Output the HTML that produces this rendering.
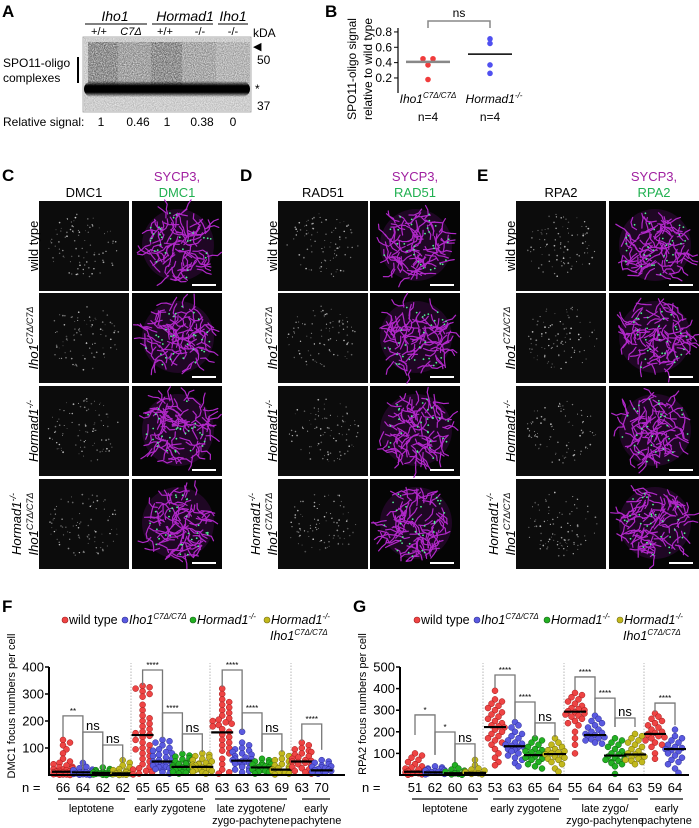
<!DOCTYPE html>
<html><head><meta charset="utf-8">
<style>
html,body{margin:0;padding:0;background:#fff;}
svg{display:block;font-family:"Liberation Sans",Arial,sans-serif;}
.it{font-style:italic}
</style></head>
<body>
<svg id="fig" width="699" height="828" viewBox="0 0 699 828" xmlns="http://www.w3.org/2000/svg">
<defs>
<linearGradient id="bandg" x1="0" y1="0" x2="0" y2="1">
<stop offset="0" stop-color="#000" stop-opacity="0"/><stop offset="0.3" stop-color="#000" stop-opacity="1"/><stop offset="0.7" stop-color="#000" stop-opacity="1"/><stop offset="1" stop-color="#000" stop-opacity="0"/>
</linearGradient>
<filter id="grain" x="0" y="0" width="100%" height="100%">
<feTurbulence type="fractalNoise" baseFrequency="0.9" numOctaves="2" seed="3" result="n"/>
<feColorMatrix in="n" type="matrix" values="0 0 0 0 0  0 0 0 0 0  0 0 0 0 0  0 0 0 0.9 -0.1" result="a"/>
<feComposite in="a" in2="SourceGraphic" operator="in"/>
</filter>
</defs>
<g>
<text x="2" y="17" font-size="17" font-weight="bold">A</text>
<text x="115" y="21" font-size="14" text-anchor="middle" class="it">Iho1</text>
<line x1="85" y1="24" x2="147" y2="24" stroke="#000" stroke-width="1"/>
<text x="185" y="21" font-size="14" text-anchor="middle" class="it">Hormad1</text>
<line x1="152" y1="24" x2="213" y2="24" stroke="#000" stroke-width="1"/>
<text x="233" y="21" font-size="14" text-anchor="middle" class="it">Iho1</text>
<line x1="218" y1="24" x2="248" y2="24" stroke="#000" stroke-width="1"/>
<g font-size="11" text-anchor="middle">
<text x="99" y="35">+/+</text><text x="131" y="35" class="it">C7Δ</text><text x="165" y="35">+/+</text><text x="200" y="35">-/-</text><text x="233" y="35">-/-</text>
</g>
<text x="253" y="37" font-size="12">kDA</text>
<rect x="83" y="37" width="168" height="75" fill="#f2f2f2" stroke="#999" stroke-width="0.8"/>
<g opacity="0.85">
<rect x="88" y="42" width="30" height="44" fill="#333" filter="url(#grain)"/>
<rect x="118" y="42" width="33" height="44" fill="#555" filter="url(#grain)" opacity="0.7"/>
<rect x="151" y="42" width="31" height="44" fill="#333" filter="url(#grain)"/>
<rect x="182" y="42" width="34" height="44" fill="#555" filter="url(#grain)" opacity="0.6"/>
<rect x="216" y="42" width="34" height="44" fill="#777" filter="url(#grain)" opacity="0.4"/>
<rect x="84" y="38" width="166" height="73" fill="#666" filter="url(#grain)" opacity="0.5"/>
</g>
<rect x="84" y="81" width="166" height="16" rx="8" fill="url(#bandg)"/>
<text x="253" y="50" font-size="11">◀</text>
<text x="257" y="64" font-size="12">50</text>
<text x="255" y="93" font-size="12">*</text>
<text x="257" y="110" font-size="12">37</text>
<text x="3" y="67" font-size="12">SPO11-oligo</text>
<text x="3" y="82" font-size="12">complexes</text>
<line x1="78" y1="57" x2="78" y2="83" stroke="#000" stroke-width="2"/>
<text x="3" y="126" font-size="12">Relative signal:</text>
<g font-size="12" text-anchor="middle">
<text x="101" y="126">1</text><text x="138" y="126">0.46</text><text x="167" y="126">1</text><text x="202" y="126">0.38</text><text x="233" y="126">0</text>
</g>
</g>
<g id="panelB">
<text x="325" y="17" font-size="17" font-weight="bold">B</text>
<text transform="translate(356,69) rotate(-90)" font-size="12" text-anchor="middle">SPO11-oligo signal</text>
<text transform="translate(372,69) rotate(-90)" font-size="12" text-anchor="middle">relative to wild type</text>
</g>
<g id="imgs"></g>
<g id="panelF"></g>
<g id="panelG"></g>
</svg>
<script>
// ---------- Panel B data ----------
const bGroups = ['Iho1', 'Hormad1'];
const bRed = [0.45, 0.45, 0.37, 0.18];
const bBlue = [0.71, 0.65, 0.37, 0.26];
const bMeans = [0.41, 0.51];
const bTicks = [0.2, 0.4, 0.6, 0.8];

// ---------- Panel F data (DMC1) ----------
const fN = ['66','64','62','62','65','65','65','68','63','63','63','69','63','70'];
const fMedians = [12,10,8,6,148,50,30,30,158,53,28,20,50,17];
const fVals = [
[130,120,110,95,80,60,50,45,40,35,30,28,25,22,20,18,15,14,12,12,10,10,8,8,6,5,4,3,2,2,1,0],
[45,30,25,20,18,15,12,10,10,8,8,6,5,4,3,2,1,0],
[28,22,18,15,12,10,9,8,7,6,5,4,3,2,1,0],
[55,45,35,28,22,18,15,12,10,8,6,5,4,3,2,1,0],
[330,325,320,310,300,290,260,240,220,210,200,190,180,170,160,155,150,145,140,130,120,110,100,95,90,80,70,60,50,40,30,25,20,15,10,5,2],
[130,125,120,110,100,95,90,85,80,75,70,65,60,55,50,48,45,42,40,38,35,32,30,28,25,22,20,15,10,5],
[78,72,68,62,58,55,50,45,42,40,38,35,32,30,28,25,22,20,18,15,12,10,8,5],
[80,75,70,65,60,55,50,45,42,40,38,35,32,30,28,25,22,20,18,15,12,10,5],
[320,300,280,270,260,250,240,230,220,210,205,200,195,190,185,180,170,160,150,140,130,120,110,100,90,80,60,40,20,10,5],
[160,120,110,100,95,90,85,80,75,70,65,60,58,55,52,50,48,45,42,40,35,30,25,20,15,10],
[60,55,50,45,42,40,38,35,32,30,28,25,22,20,18,15,12,10,5],
[80,70,60,55,50,45,40,35,30,25,22,20,18,15,12,10,8,5,2],
[120,110,100,95,90,85,80,75,70,65,60,55,52,50,48,45,40,35,30,25,20,15,10,5],
[55,50,45,40,35,32,30,28,25,22,20,18,15,12,10,8,5]
];
const fTicks = [100,200,300,400];
const fSigFrom = [0,1,2,4,5,6,8,9,10,12];
const fSigLabel = ['**','ns','ns','****','****','ns','****','****','ns','****'];
const fSigTop = [219,159,111,389,230,152,389,230,152,189];
const fSigLegL = [141,19,48,333,137,85,326,167,85,126];
const fSigLegR = [19,19,48,137,85,85,167,85,85,93];

// ---------- Panel G data (RPA2) ----------
const gN = ['51','62','60','63','53','63','65','64','55','64','64','63','59','64'];
const gMedians = [15,12,8,10,222,133,92,97,293,185,90,95,190,120];
const gVals = [
[100,90,80,70,60,50,40,35,30,25,20,18,15,12,10,8,5,3,1],
[40,35,30,28,25,22,20,18,15,12,10,8,5,3],
[45,30,25,20,15,12,10,8,5,3,1],
[70,45,30,25,20,15,12,10,8,5,3],
[390,350,340,330,320,310,300,290,280,270,260,250,240,230,225,220,210,200,190,180,170,160,150,140,120,100,80,60,45],
[245,230,220,200,190,180,170,160,150,145,140,135,130,125,120,115,110,100,90,80,70,55,40],
[170,160,150,140,130,120,115,110,105,100,95,90,85,80,75,70,60,50,40,30],
[170,150,140,130,120,115,110,105,100,95,90,85,80,75,70,60,50,30,15],
[380,370,360,350,340,330,320,310,305,300,295,290,285,280,275,270,260,250,240,230,200,170,140,100],
[275,260,250,240,230,220,210,200,195,190,185,180,175,170,165,160,150,145],
[170,160,150,140,130,120,110,100,95,90,85,80,75,70,65,60,55,50,40,5],
[190,180,170,160,150,140,130,120,110,100,95,90,85,80,75,70,65,60,50],
[285,270,260,250,240,230,220,210,200,195,190,185,180,175,170,160,150,140,130,100,75],
[210,180,170,160,150,140,130,125,120,115,110,100,90,80,70,60,50,30,10]
];
const gTicks = [100,200,300,400,500];
const gSigFrom = [0,1,2,4,5,6,8,9,10,12];
const gSigLabel = ['*','*','ns','****','****','ns','****','****','ns','****'];
const gSigTop = [278,199,144,463,338,241,454,356,264,333];
const gSigLegL = [185,93,60,403,255,176,394,287,222,292];
const gSigLegR = [93,60,32,255,176,176,287,222,222,231];

const NS = 'http://www.w3.org/2000/svg';
function mk(parent, tag, attrs, text) {
  const e = document.createElementNS(NS, tag);
  for (const k in attrs) e.setAttribute(k, attrs[k]);
  if (text !== undefined) e.textContent = text;
  parent.appendChild(e);
  return e;
}
const FILL = ['#ee4444','#5a5ae0','#22b022','#c2b81c'];
const STROKE = ['#a01818','#2a2a90','#126012','#6e6a10'];

(function(){
  const g = document.getElementById('panelB');
  const by = v => 93.3 - v * 76.7;
  const bx = i => 428 + i * 62;
  let ax = mk(g,'line',{x1:398,y1:28,x2:398,y2:93,stroke:'#000','stroke-width':1.2});
  
  
  bTicks.forEach(t => {
    mk(g,'line',{x1:394,y1:by(t),x2:398,y2:by(t),stroke:'#000','stroke-width':1});
    const tx = mk(g,'text',{x:392,y:by(t)+4,'font-size':12,'text-anchor':'end'}, t.toFixed(1));
    
    
  });
  [bRed, bBlue].forEach((arr, gi) => {
    arr.forEach((v, j) => {
      const off = (j < 2 && Math.abs(arr[0]-arr[1]) < 0.03) ? (j === 0 ? -5 : 5) : 0;
      const c = mk(g,'circle',{cx:bx(gi)+off,cy:by(v),r:2.8,fill:gi===0?'#f03c3c':'#5050f0'});
      
      
    });
    const m = mk(g,'line',{x1:bx(gi)-22,y1:by(bMeans[gi]),x2:bx(gi)+22,y2:by(bMeans[gi]),stroke:gi===0?'#888':'#000','stroke-width':gi===0?2.5:1.5});
    
    
  });
  mk(g,'path',{d:`M${bx(0)} 28 V21 H${bx(1)} V28`,fill:'none',stroke:'#888','stroke-width':1.5});
  mk(g,'text',{x:(bx(0)+bx(1))/2,y:17,'font-size':12,'text-anchor':'middle'},'ns');
  const l1 = mk(g,'text',{x:bx(0),y:103,'font-size':12,'text-anchor':'middle','font-style':'italic'});
  
  
  l1.innerHTML = 'Iho1<tspan font-size="8" dy="-5">C7Δ/C7Δ</tspan>';
  const l2 = mk(g,'text',{x:bx(1)+4,y:103,'font-size':12,'text-anchor':'middle','font-style':'italic'});
  
  
  l2.innerHTML = 'Hormad1<tspan font-size="8" dy="-5">-/-</tspan>';
  mk(g,'text',{x:bx(0),y:121,'font-size':12,'text-anchor':'middle'},'n=4');
  mk(g,'text',{x:bx(1),y:121,'font-size':12,'text-anchor':'middle'},'n=4');
})();

(function(){
  const g = document.getElementById('imgs');
  let seed = 12345;
  const rnd = () => { seed = (seed * 1103515245 + 12345) % 2147483648; return seed / 2147483648; };
  const panels = [
    {letter:'C', lx:2, gx:39, mx:132, label:'DMC1'},
    {letter:'D', lx:240, gx:278, mx:370, label:'RAD51'},
    {letter:'E', lx:477, gx:516, mx:609, label:'RPA2'}
  ];
  const rows = [201, 293, 386, 479];
  const H = 90, W = 90;
  panels.forEach((p, pi) => {
    const lt = mk(g,'text',{x:p.lx,y:181,'font-size':17,'font-weight':'bold'}, p.letter);
    
    
    mk(g,'text',{x:p.gx+W/2,y:197,'font-size':13,'text-anchor':'middle'}, p.label);
    mk(g,'text',{x:p.mx+W/2,y:181,'font-size':13,'text-anchor':'middle',fill:'#a020a0'}, 'SYCP3,');
    mk(g,'text',{x:p.mx+W/2,y:197,'font-size':13,'text-anchor':'middle',fill:'#20b050'}, p.label);
    rows.forEach((ry, ri) => {
      const gr = mk(g,'rect',{x:p.gx,y:ry,width:W,height:H,fill:'#0c0c0c'});
      
      
      let dots = '';
      for (let k = 0; k < 90; k++) {
        const a = rnd()*Math.PI*2, rr = Math.sqrt(rnd())*36;
        const x = p.gx+45+Math.cos(a)*rr, y = ry+45+Math.sin(a)*rr*0.9;
        dots += `<circle cx="${x.toFixed(1)}" cy="${y.toFixed(1)}" r="${(0.4+rnd()*0.5).toFixed(2)}" fill="#ddd" opacity="${(0.3+rnd()*0.6).toFixed(2)}"/>`;
      }
      const dg = mk(g,'g',{}); dg.innerHTML = dots;
      const mr = mk(g,'rect',{x:p.mx,y:ry,width:W,height:H,fill:'#050505'});
      
      
      const ccx = p.mx+46, ccy = ry+44;
      let paths = `<circle cx="${ccx}" cy="${ccy}" r="36" fill="#3a0a44" opacity="0.5"/>`;
      for (let k = 0; k < 90; k++) {
        const a = rnd()*Math.PI*2, rr = Math.sqrt(rnd())*34;
        let x = ccx+Math.cos(a)*rr, y = ccy+Math.sin(a)*rr;
        let d = `M${x.toFixed(1)} ${y.toFixed(1)}`;
        let ang = rnd()*Math.PI*2;
        for (let s = 0; s < 3; s++) {
          ang += (rnd()-0.5)*1.8;
          x += Math.cos(ang)*5; y += Math.sin(ang)*5;
          d += ` L${x.toFixed(1)} ${y.toFixed(1)}`;
        }
        paths += `<path d="${d}" fill="none" stroke="#b028c8" stroke-width="1.2" stroke-linejoin="round" stroke-linecap="round"/>`;
      }
      for (let k = 0; k < 30; k++) {
        const a = rnd()*Math.PI*2, rr = Math.sqrt(rnd())*34;
        paths += `<circle cx="${(ccx+Math.cos(a)*rr).toFixed(1)}" cy="${(ccy+Math.sin(a)*rr).toFixed(1)}" r="0.9" fill="#50f090"/>`;
      }
      const pg = mk(g,'g',{}); pg.innerHTML = paths;
      const sb = mk(g,'line',{x1:p.mx+W-30,y1:ry+H-6,x2:p.mx+W-6,y2:ry+H-6,stroke:'#fff','stroke-width':2});
      
      
      const cx = p.gx - 6, cy = ry + H/2;
      let lbl;
      if (ri === 0) {
        lbl = mk(g,'text',{transform:`translate(${cx+5},${cy}) rotate(-90)`,'font-size':13,'text-anchor':'middle'}, 'wild type');
      } else if (ri === 1) {
        lbl = mk(g,'text',{transform:`translate(${cx+5},${cy}) rotate(-90)`,'font-size':13,'text-anchor':'middle','font-style':'italic'});
        lbl.innerHTML = 'Iho1<tspan font-size="9" dy="-5">C7Δ/C7Δ</tspan>';
      } else if (ri === 2) {
        lbl = mk(g,'text',{transform:`translate(${cx+5},${cy}) rotate(-90)`,'font-size':13,'text-anchor':'middle','font-style':'italic'});
        lbl.innerHTML = 'Hormad1<tspan font-size="9" dy="-5">-/-</tspan>';
      } else {
        lbl = mk(g,'text',{transform:`translate(${cx-12},${cy}) rotate(-90)`,'font-size':13,'text-anchor':'middle','font-style':'italic'});
        lbl.innerHTML = 'Hormad1<tspan font-size="9" dy="-5">-/-</tspan>';
        mk(g,'text',{transform:`translate(${cx+5},${cy}) rotate(-90)`,'font-size':13,'text-anchor':'middle','font-style':'italic'}).innerHTML = 'Iho1<tspan font-size="9" dy="-5">C7Δ/C7Δ</tspan>';
      }
      
      
    });
  });
})();

function dotPlot(cfg) {
  const g = document.getElementById(cfg.id);
  const y = v => cfg.y0 - v * cfg.k;
  const x = i => cfg.x0 + i * cfg.dx;
  const lt = mk(g,'text',{x:cfg.letterX,y:612,'font-size':17,'font-weight':'bold'}, cfg.letter);
  
  
  const legNames = ['wild type','Iho1','Hormad1','Hormad1'];
  const legSup = ['','C7Δ/C7Δ','-/-','-/-'];
  cfg.legX.forEach((lx, i) => {
    const c = mk(g,'circle',{cx:lx,cy:620,r:3,fill:FILL[i],stroke:STROKE[i],'stroke-width':0.6});
    
    
    const t = mk(g,'text',{x:lx+4,y:624,'font-size':12.5,'font-style':i===0?'normal':'italic'});
    
    
    t.innerHTML = legNames[i] + (legSup[i] ? `<tspan font-size="8" dy="-5">${legSup[i]}</tspan>` : '');
  });
  mk(g,'text',{x:cfg.legX[3]+3,y:640,'font-size':12.5,'font-style':'italic'}).innerHTML = 'Iho1<tspan font-size="8" dy="-5">C7Δ/C7Δ</tspan>';
  const yt = mk(g,'text',{transform:`translate(${cfg.ytX},${cfg.ytY}) rotate(-90)`,'font-size':11,'text-anchor':'middle'}, cfg.ytitle);
  
  
  cfg.seps.forEach(s => mk(g,'line',{x1:s,y1:cfg.y0,x2:s,y2:cfg.y0-112,stroke:'#999','stroke-width':0.7,'stroke-dasharray':'1.5,1.5'}));
  cfg.vals.forEach((arr, i) => {
    const col = i < 12 ? i % 4 : (i === 12 ? 0 : 1);
    const placed = [];
    const r = 3;
    arr.forEach(v => {
      const py = y(v);
      let off = 0, step = 0;
      const offs = [0,3.5,-3.5,7,-7,9.5,-9.5];
      for (step = 0; step < offs.length; step++) {
        off = offs[step];
        if (!placed.some(p => Math.hypot(p[0]-off, p[1]-py) < 2*r-1.5)) break;
      }
      if (step >= offs.length) off = offs[placed.length % offs.length];
      placed.push([off, py]);
      const c = mk(g,'circle',{cx:x(i)+off,cy:py,r:r,fill:FILL[col],stroke:STROKE[col],'stroke-width':0.5});
      
      
    });
    const m = mk(g,'line',{x1:x(i)-11,y1:y(cfg.med[i]),x2:x(i)+11,y2:y(cfg.med[i]),stroke:'#000','stroke-width':2.2});
    
    
    const nl = mk(g,'text',{x:x(i),y:792,'font-size':13,'text-anchor':'middle'}, cfg.n[i]);
    
    
  });
  mk(g,'text',{x:cfg.nX,y:792,'font-size':13},'n =');
  const ya = mk(g,'line',{x1:cfg.axX,y1:cfg.y0+1,x2:cfg.axX,y2:y(cfg.ticks[cfg.ticks.length-1]),stroke:'#000','stroke-width':2});
  
  
  const xa = mk(g,'line',{x1:cfg.axX,y1:cfg.y0,x2:cfg.axEnd,y2:cfg.y0,stroke:'#000','stroke-width':2});
  
  
  cfg.ticks.forEach(t => {
    mk(g,'line',{x1:cfg.axX-4,y1:y(t),x2:cfg.axX,y2:y(t),stroke:'#000','stroke-width':1.5});
    const tl = mk(g,'text',{x:cfg.axX-5,y:y(t)+4.5,'font-size':13,'text-anchor':'end'}, String(t));
    
    
  });
  cfg.sigFrom.forEach((f, j) => {
    const x1 = x(f), x2 = x(f+1), top = y(cfg.sigTop[j]);
    const b = mk(g,'path',{d:`M${x1} ${y(cfg.sigLegL[j])} V${top} H${x2} V${y(cfg.sigLegR[j])}`,fill:'none',stroke:'#777','stroke-width':1.3});
    
    
    const isNs = cfg.sigLabel[j] === 'ns';
    mk(g,'text',{x:(x1+x2)/2,y:top-2,'font-size':isNs?13:8,'text-anchor':'middle'}, cfg.sigLabel[j]);
  });
  cfg.groups.forEach(gr => {
    mk(g,'line',{x1:gr[0],y1:799,x2:gr[1],y2:799,stroke:'#333','stroke-width':1.5});
    const c = (gr[0]+gr[1])/2;
    const t1 = mk(g,'text',{x:c,y:812,'font-size':11,'text-anchor':'middle'}, gr[2]);
    
    
    if (gr[3]) mk(g,'text',{x:c,y:824,'font-size':11,'text-anchor':'middle'}, gr[3]);
  });
}

dotPlot({id:'panelF', letter:'F', letterX:2, y0:775, k:0.27, x0:63, dx:19.9, axX:49, axEnd:345,
  vals:fVals, med:fMedians, n:fN, ticks:fTicks, sigFrom:fSigFrom, sigLabel:fSigLabel, sigTop:fSigTop, sigLegL:fSigLegL, sigLegR:fSigLegR,
  legX:[65,125,193,267], ytitle:'DMC1 focus numbers per cell', ytX:15, ytY:706, nX:22,
  seps:[131,210,291],
  groups:[[58,125,'leptotene'],[137,203,'early zygotene'],[215,287,'late zygotene/','zygo-pachytene'],[302,330,'early','pachytene']]});

dotPlot({id:'panelG', letter:'G', letterX:353, y0:775, k:0.216, x0:415, dx:20, axX:400, axEnd:689,
  vals:gVals, med:gMedians, n:gN, ticks:gTicks, sigFrom:gSigFrom, sigLabel:gSigLabel, sigTop:gSigTop, sigLegL:gSigLegL, sigLegR:gSigLegR,
  legX:[417,477,547,620], ytitle:'RPA2 focus numbers per cell', ytX:366, ytY:704, nX:362,
  seps:[483,564,644],
  groups:[[412,478,'leptotene'],[493,559,'early zygotene'],[572,638,'late zygo/','zygo-pachytene'],[650,683,'early','pachytene']]});
</script>
</body></html>
